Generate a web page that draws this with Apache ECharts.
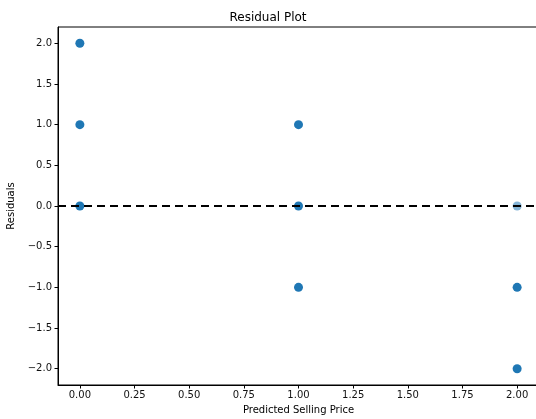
<!DOCTYPE html>
<html>
<head>
<meta charset="utf-8">
<script src="https://cdn.jsdelivr.net/npm/echarts@6/dist/echarts.min.js"></script>
<style>
html,body{margin:0;padding:0;background:#fff;}
#chart{width:536px;height:419px;}
</style>
</head>
<body>
<div id="chart"></div>
<script>
const predicted = [0, 0, 0, 1, 1, 1, 2, 2, 2];
const residuals = [2, 1, 0, 1, 0, -1, 0, -1, -2];
const xTicks = [0, 0.25, 0.5, 0.75, 1, 1.25, 1.5, 1.75, 2];
const yTicks = [-2, -1.5, -1, -0.5, 0, 0.5, 1, 1.5, 2];

const font = 'DejaVu Sans';
const chart = echarts.init(document.getElementById('chart'), null, {renderer: 'canvas'});
const pts = predicted.map((x, i) => {
  const p = {value: [x, residuals[i]]};
  if (x === 2 && residuals[i] === 0) p.itemStyle = {opacity: 0.55};
  return p;
});
chart.setOption({
  animation: false,
  backgroundColor: '#fff',
  title: {
    text: 'Residual Plot', left: 'center', top: 7,
    textStyle: {fontFamily: font, fontSize: 12, fontWeight: 'normal', color: '#000'}
  },
  grid: {left: 58, top: 27, width: 481, height: 358, outerBoundsMode: 'none', containLabel: false,
    show: true, borderColor: '#000', borderWidth: 1, backgroundColor: 'transparent'},
  xAxis: {
    type: 'value', min: -0.1, max: 2.1,
    name: 'Predicted Selling Price', nameLocation: 'middle', nameGap: 20,
    nameTextStyle: {fontFamily: font, fontSize: 10, color: '#000'},
    axisLine: {show: true, onZero: false, lineStyle: {color: '#000', width: 1}},
    axisTick: {show: true, length: 3.5, lineStyle: {color: '#000'}, customValues: xTicks},
    axisLabel: {fontFamily: font, fontSize: 10, color: '#111', margin: 5, customValues: xTicks,
      formatter: v => v.toFixed(2)},
    splitLine: {show: false}
  },
  yAxis: {
    type: 'value', min: -2.2, max: 2.2,
    name: 'Residuals', nameLocation: 'middle', nameGap: 39,
    nameTextStyle: {fontFamily: font, fontSize: 10, color: '#000'},
    axisLine: {show: true, onZero: false, lineStyle: {color: '#000', width: 1}},
    axisTick: {show: true, length: 3.5, lineStyle: {color: '#000'}, customValues: yTicks},
    axisLabel: {fontFamily: font, fontSize: 10, color: '#111', margin: 6, customValues: yTicks,
      formatter: v => (v < 0 ? '\u2212' + Math.abs(v).toFixed(1) : v.toFixed(1))},
    splitLine: {show: false}
  },
  series: [{
    type: 'scatter',
    data: pts,
    symbolSize: 9,
    itemStyle: {color: '#1f77b4', opacity: 1},
    z: 2,
    markLine: {
      silent: true, symbol: 'none', label: {show: false},
      lineStyle: {color: '#000', width: 2, type: [8, 5]},
      data: [{yAxis: 0}],
      z: 3
    }
  }]
});
</script>
</body>
</html>
